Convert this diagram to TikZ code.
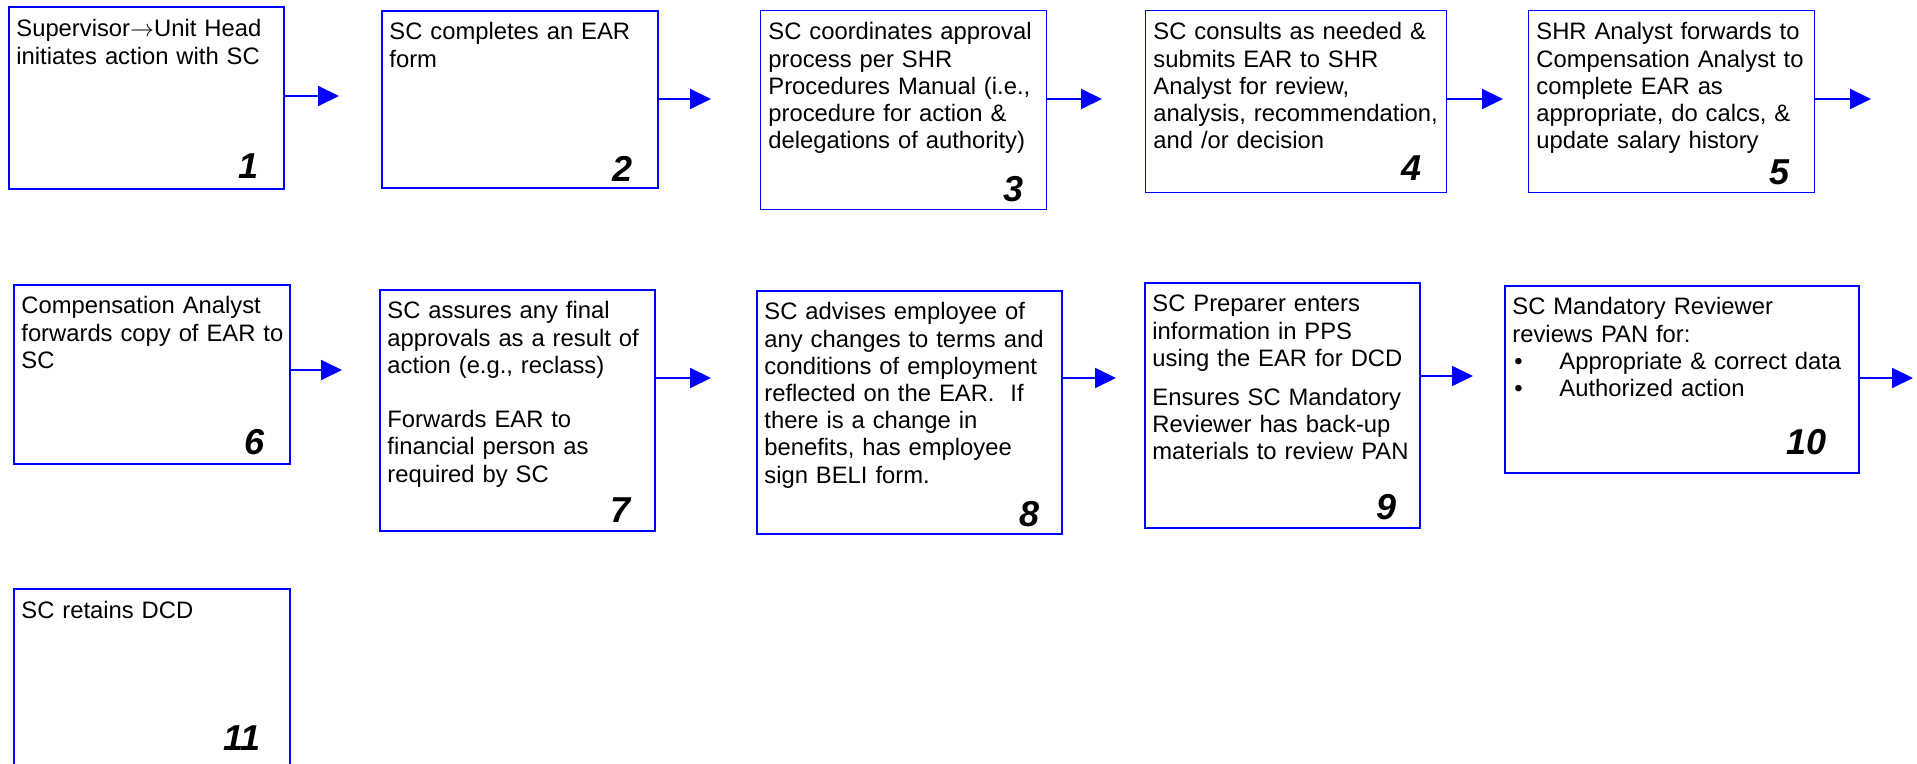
\documentclass[tikz,border=0pt]{standalone}
\usepackage{fontspec}
\setmainfont{Liberation Sans}
\usetikzlibrary{arrows.meta}
\definecolor{boxblue}{RGB}{0,0,255}
\begin{document}
\begin{tikzpicture}[x=0.5pt,y=-0.5pt,
  box/.style={draw=boxblue, line width=1pt, rectangle, anchor=north west, inner sep=0pt},
  thinbox/.style={box, line width=0.7pt},
  txt/.style={anchor=base west, inner sep=0pt, align=left, font=\fontsize{11.9}{13.6}\selectfont},
  num/.style={anchor=base east, inner sep=0pt, font=\fontsize{18}{18}\selectfont\bfseries\itshape},
  arr/.style={draw=boxblue, line width=1pt, -{Triangle[length=10.5pt,width=10pt]}}]
\useasboundingbox (0,0) rectangle (1917,764);
% boxes
\node[box, minimum width=137.5pt, minimum height=91pt] (b1) at (8,6) {};
\node[box, minimum width=138pt, minimum height=88.5pt] (b2) at (381,10) {};
\node[thinbox, minimum width=143pt, minimum height=99.5pt] (b3) at (760,10) {};
\node[thinbox, minimum width=150.5pt, minimum height=91pt] (b4) at (1145,10) {};
\node[thinbox, minimum width=143pt, minimum height=91pt] (b5) at (1528,10) {};
\node[box, minimum width=138pt, minimum height=89.5pt] (b6) at (13,284) {};
\node[box, minimum width=137.5pt, minimum height=120.5pt] (b7) at (379,289) {};
\node[box, minimum width=152.5pt, minimum height=121.5pt] (b8) at (756,290) {};
\node[box, minimum width=137.5pt, minimum height=122.5pt] (b9) at (1144,282) {};
\node[box, minimum width=177pt, minimum height=93.5pt] (b10) at (1504,285) {};
\node[box, minimum width=138pt, minimum height=90pt] (b11) at (13,588) {};
% texts
\node[txt, text width=133pt] (t1) at ([shift={(8,31)}]b1.north west) {Supervisor\ensuremath{\rightarrow}Unit Head\\initiates action with SC};
\node[txt, text width=133pt] (t2) at ([shift={(8,30)}]b2.north west) {SC completes an EAR\\form};
\node[txt, text width=139pt] (t3) at ([shift={(8,30)}]b3.north west) {SC coordinates approval\\process per SHR\\Procedures Manual (i.e.,\\procedure for action \&\\delegations of authority)};
\node[txt, text width=146pt] (t4) at ([shift={(8,30)}]b4.north west) {SC consults as needed \&\\submits EAR to SHR\\Analyst for review,\\analysis, recommendation,\\and /or decision};
\node[txt, text width=139pt] (t5) at ([shift={(8,30)}]b5.north west) {SHR Analyst forwards to\\Compensation Analyst to\\complete EAR as\\appropriate, do calcs, \&\\update salary history};
\node[txt, text width=134pt] (t6) at ([shift={(8,30)}]b6.north west) {Compensation Analyst\\forwards copy of EAR to\\SC};
\node[txt, text width=133pt] (t7) at ([shift={(8,30)}]b7.north west) {SC assures any final\\approvals as a result of\\action (e.g., reclass)\\[13.6pt]Forwards EAR to\\financial person as\\required by SC};
\node[txt, text width=148pt] (t8) at ([shift={(8,30)}]b8.north west) {SC advises employee of\\any changes to terms and\\conditions of employment\\reflected on the EAR.\ \ If\\there is a change in\\benefits, has employee\\sign BELI form.};
\node[txt, text width=133pt] (t9) at ([shift={(8,30)}]b9.north west) {SC Preparer enters\\information in PPS\\using the EAR for DCD\\[6pt]Ensures SC Mandatory\\Reviewer has back-up\\materials to review PAN};
\node[txt, text width=172pt] (t10) at ([shift={(8,30)}]b10.north west) {SC Mandatory Reviewer\\reviews PAN for:\\\makebox[23.5pt][l]{\hspace{1pt}•}Appropriate \& correct data\\\makebox[23.5pt][l]{\hspace{1pt}•}Authorized action};
\node[txt, text width=133pt] (t11) at ([shift={(8,30)}]b11.north west) {SC retains DCD};
% numbers
\node[num] (n1) at ([shift={(-26,-11)}]b1.south east) {1};
\node[num] (n2) at ([shift={(-26,-7)}]b2.south east) {2};
\node[num] (n3) at ([shift={(-23,-9)}]b3.south east) {3};
\node[num] (n4) at ([shift={(-25,-13)}]b4.south east) {4};
\node[num] (n5) at ([shift={(-25,-9)}]b5.south east) {5};
\node[num] (n6) at ([shift={(-26,-10)}]b6.south east) {6};
\node[num] (n7) at ([shift={(-25,-9)}]b7.south east) {7};
\node[num] (n8) at ([shift={(-23,-9)}]b8.south east) {8};
\node[num] (n9) at ([shift={(-24,-10)}]b9.south east) {9};
\node[num] (n10) at ([shift={(-33,-19)}]b10.south east) {10};
\node[num] (n11) at ([shift={(-30,162)}]b11.north east) {11};
% arrow tips
\coordinate (a1) at (339,96);
\coordinate (a2) at (711,99);
\coordinate (a3) at (1102,99);
\coordinate (a4) at (1503,99);
\coordinate (a5) at (1871,99);
\coordinate (a6) at (342,370);
\coordinate (a7) at (711,378);
\coordinate (a8) at (1116,378);
\coordinate (a9) at (1473,376);
\coordinate (a10) at (1913,378);
\draw[arr] (b1.east |- a1) -- (a1);
\draw[arr] (b2.east |- a2) -- (a2);
\draw[arr] (b3.east |- a3) -- (a3);
\draw[arr] (b4.east |- a4) -- (a4);
\draw[arr] (b5.east |- a5) -- (a5);
\draw[arr] (b6.east |- a6) -- (a6);
\draw[arr] (b7.east |- a7) -- (a7);
\draw[arr] (b8.east |- a8) -- (a8);
\draw[arr] (b9.east |- a9) -- (a9);
\draw[arr] (b10.east |- a10) -- (a10);
\end{tikzpicture}
\end{document}
